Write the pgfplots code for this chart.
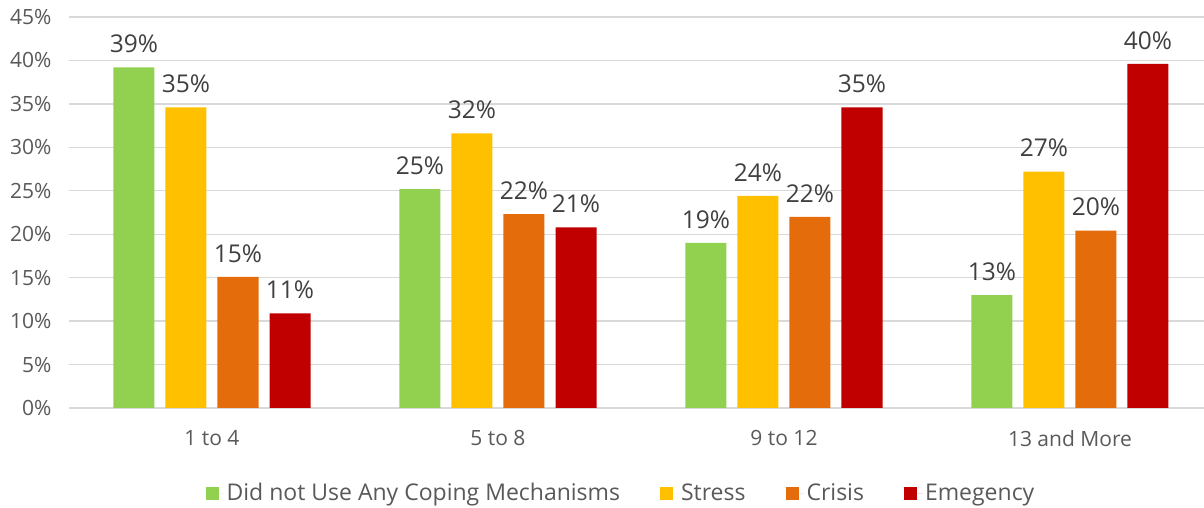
\documentclass[border=0pt]{standalone}
\usepackage{pgfplots}
\pgfplotsset{compat=1.18}
\usepackage{fontspec}
\setmainfont{Open Sans}
\definecolor{cgreen}{HTML}{92D050}
\definecolor{cyellow}{HTML}{FFC000}
\definecolor{corange}{HTML}{E46C0A}
\definecolor{cred}{HTML}{C00000}
\definecolor{txt}{HTML}{595959}
\definecolor{lbl}{HTML}{404040}
\definecolor{gridc}{HTML}{D9D9D9}
\begin{document}
\begin{tikzpicture}
\path[use as bounding box] (-69pt,-100pt) rectangle (1135pt,17pt+391pt);
\begin{axis}[
  scale only axis,
  width=1144pt, height=391pt,
  ybar=11pt, bar width=41pt,
  xmin=-0.5, xmax=3.5,
  ymin=0, ymax=45, ytick={0,5,...,45},
  xtick={0,1,2,3},
  xticklabels={1 to 4,5 to 8,9 to 12,13 and More},
  yticklabel={\pgfmathprintnumber{\tick}\%},
  /pgf/number format/assume math mode=true,
  ymajorgrids, xmajorgrids=false,
  grid style={draw=gridc, line width=1.3pt},
  axis line style={draw=none},
  major tick length=0pt,
  tick label style={text=txt, font=\fontsize{21pt}{25pt}\selectfont},
  yticklabel style={xshift=-14pt},
  xticklabel style={yshift=-19pt},
  nodes near coords={\pgfmathprintnumber[fixed,precision=0]{\pgfplotspointmeta}\%},
  every node near coord/.append style={text=lbl, font=\fontsize{24.5pt}{28pt}\selectfont, anchor=south, yshift=11pt},
  legend columns=4,
  legend style={draw=none, at={(0.4825,-85pt)}, anchor=center, text=txt,
    font=\fontsize{23pt}{27pt}\selectfont,
    /tikz/every even column/.append style={column sep=38pt}},
  legend image code/.code={\fill[#1] (0pt,-6.5pt) rectangle (13pt,6.5pt); \path (13pt,0pt) -- (19pt,0pt);},
  clip=false,
]
\draw[gridc, line width=1.3pt] (axis cs:-0.5,0) -- (axis cs:3.5,0);
\addplot[fill=cgreen, draw=none] coordinates {(0,39.2) (1,25.2) (2,19.0) (3,13.0)};
\addplot[fill=cyellow, draw=none] coordinates {(0,34.6) (1,31.6) (2,24.4) (3,27.2)};
\addplot[fill=corange, draw=none] coordinates {(0,15.1) (1,22.3) (2,22.0) (3,20.4)};
\addplot[fill=cred, draw=none] coordinates {(0,10.9) (1,20.8) (2,34.6) (3,39.6)};
\legend{Did not Use Any Coping Mechanisms,Stress,Crisis,Emegency}
\end{axis}
\end{tikzpicture}
\end{document}
